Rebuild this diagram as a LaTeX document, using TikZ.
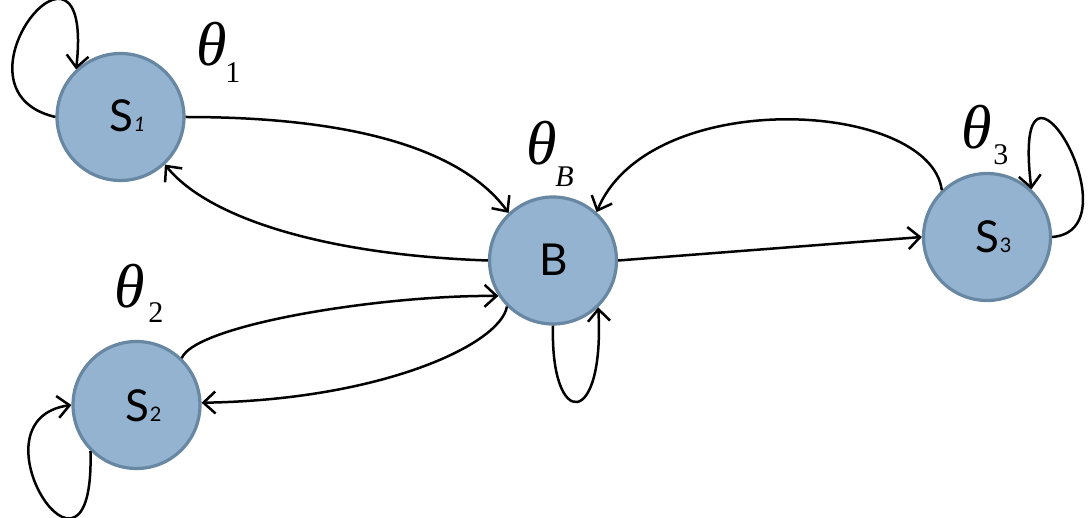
\documentclass[tikz,border=0pt]{standalone}
\usepackage{fontspec}
\newfontfamily\tms{Liberation Serif}
\newfontfamily\lat{Lato}
\usetikzlibrary{arrows.meta}
\definecolor{fillc}{RGB}{147,179,208}
\definecolor{edgec}{RGB}{104,135,162}
\newcommand{\thl}[3]{{\tms\itshape\fontsize{62}{62}\selectfont θ}\kern#3\raisebox{-#2}{\tms\fontsize{30}{30}\selectfont #1}}
\newcommand{\slbl}[2]{{\lat\fontsize{44}{44}\selectfont S}\kern1pt{\lat\fontsize{20}{20}\selectfont #1#2}}
\begin{document}
\begin{tikzpicture}[x=1pt,y=-1pt,
  state/.style={circle,draw=edgec,fill=fillc,line width=3.2pt,minimum size=127pt,inner sep=0pt},
  lbl/.style={anchor=base west,inner sep=0pt,outer sep=0pt},
  conn/.style={line width=2.5pt,-{Straight Barb[length=12pt,width=22pt,line width=2.5pt]}}]
\useasboundingbox (0,0) rectangle (1091,518);
\node[state] (s1) at (120.5,117) {};
\node[state] (b)  at (553,260.5) {};
\node[state] (s2) at (136.5,405) {};
\node[state] (s3) at (987,237) {};
% state labels
\node[lbl] (s1t) at (109,132) {\slbl{\itshape}{1}};
\node[lbl] (s2t) at (125,421) {\slbl{}{2}};
\node[lbl] (s3t) at (975,253) {\slbl{}{3}};
\node[lbl] (bt)  at (539,276) {\lat\fontsize{44}{44}\selectfont B};
% theta labels
\node[lbl] (th1) at (196,66) {\thl{1}{17pt}{-1pt}};
\node[lbl] (th2) at (114,308) {\thl{2}{14pt}{4pt}};
\node[lbl] (thb) at (526,165) {\thl{\itshape B}{22pt}{-1pt}};
\node[lbl] (th3) at (961,149) {\thl{3}{16pt}{2pt}};
% connectors
\draw[conn] (s1.180) .. controls (-60,90) and (95,-100) .. (s1.133);
\draw[conn] (s1.0) .. controls (380,117) and (470,160) .. (b.133);
\draw[conn] (b.180) .. controls (330,255) and (210,220) .. (s1.-47);
\draw[conn] (s2.46) .. controls (195,325) and (380,295) .. (b.-147);
\draw[conn] (b.-135) .. controls (500,345) and (380,400) .. (s2.2);
\draw[conn] (s2.-135) .. controls (95,620) and (-35,420) .. (s2.180);
\draw[conn] (b.270) .. controls (550,430) and (605,430) .. (b.-46.5);
\draw[conn] (s3.134) .. controls (930,100) and (650,85) .. (b.48);
\draw[conn] (b.0) -- (s3.180);
\draw[conn] (s3.0) .. controls (1140,230) and (1010,10) .. (s3.47);
\end{tikzpicture}
\end{document}
